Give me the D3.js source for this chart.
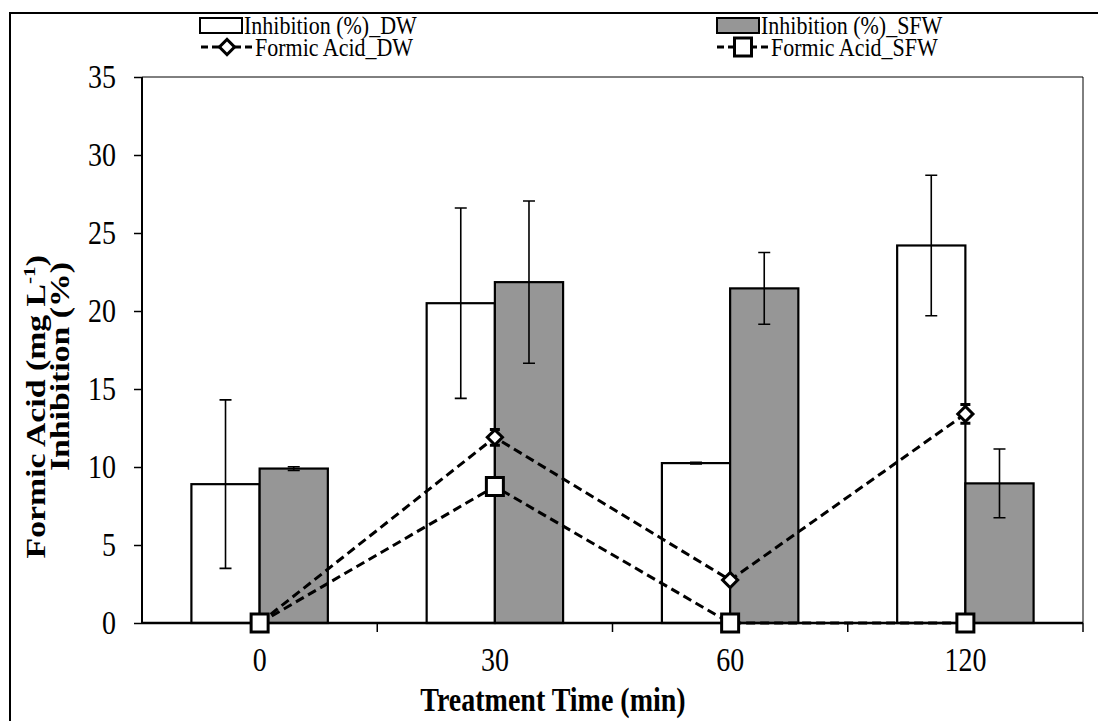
<!DOCTYPE html>
<html><head><meta charset="utf-8">
<script src="https://cdn.jsdelivr.net/npm/d3@7"></script>
<style>body{margin:0;background:#fff}svg{display:block}text{font-family:"Liberation Serif","Times New Roman",serif;fill:#000}</style>
</head><body>
<svg id="c" width="1098" height="721"></svg>
<script>
const categories = ["0","30","60","120"];
const inhibDW = [8.9, 20.5, 10.25, 24.2];
const inhibDWErr = [5.4, 6.1, 0.05, 4.5];
const inhibSFW = [9.9, 21.85, 21.45, 8.95];
const inhibSFWErr = [0.12, 5.2, 2.3, 2.2];
const formicDW = [0, 11.9, 2.75, 13.4];
const formicDWErr = [0, 0.5, 0, 0.6];
const formicSFW = [0, 8.75, 0, 0];
const yTicks = [0,5,10,15,20,25,30,35];
const legendLabels = ["Inhibition (%)_DW","Inhibition (%)_SFW","Formic Acid_DW","Formic Acid_SFW"];

const svg = d3.select("#c");
const L = 142, R = 1083, T = 77, B = 623;
const x = d3.scaleBand().domain(categories).range([L, R]).paddingInner(0.42).paddingOuter(0.21);
const x0 = d3.scaleBand().domain(categories).range([L, R]);
const sub = d3.scaleBand().domain(["DW","SFW"]).range([0, x.bandwidth()]);
const y = d3.scaleLinear().domain([0,35]).range([B, T]);

function stretchText(parent, tx, ty, str, opt){
  const s = opt.s || 1.2;
  const tr = opt.rot ? `translate(${tx},${ty}) rotate(-90) scale(${s},1)` : `translate(${tx},${ty}) scale(1,${s})`;
  const gg = parent.append("g").attr("transform", tr);
  const t = gg.append("text").attr("x",0).attr("y",0)
    .attr("font-size", opt.size).attr("font-weight", opt.weight||"normal")
    .attr("text-anchor", opt.anchor||"start");
  if (str !== null) t.text(str);
  return t;
}

// outer frame
svg.append("rect").attr("x",10).attr("y",13).attr("width",1200).attr("height",800)
  .attr("fill","none").attr("stroke","#000").attr("stroke-width",2);

// plot frame top/right
svg.append("path").attr("d",`M${L},${T}H${R}V${B}`).attr("fill","none").attr("stroke","#000").attr("stroke-width",1);

const g = svg.append("g");
const series = [
  {k:"DW", v:inhibDW, e:inhibDWErr, fill:"#fff"},
  {k:"SFW", v:inhibSFW, e:inhibSFWErr, fill:"#969696"}
];
series.forEach(s=>{
  g.selectAll(null).data(categories).enter().append("rect")
    .attr("x", c=>x(c)+sub(s.k)).attr("width", sub.bandwidth())
    .attr("y", (c,i)=>y(s.v[i])).attr("height",(c,i)=>y(0)-y(s.v[i]))
    .attr("fill", s.fill).attr("stroke","#000").attr("stroke-width",2.2);
});
series.forEach(s=>{
  categories.forEach((c,i)=>{
    const cx = x(c)+sub(s.k)+sub.bandwidth()/2;
    const y1 = y(s.v[i]+s.e[i]), y2 = y(s.v[i]-s.e[i]);
    g.append("path").attr("d",`M${cx},${y1}V${y2}M${cx-6},${y1}H${cx+6}M${cx-6},${y2}H${cx+6}`)
      .attr("stroke","#000").attr("stroke-width",1.6).attr("fill","none");
  });
});

// y axis
const yAxis = d3.axisLeft(y).tickValues(yTicks).tickSize(8).tickPadding(18);
const ya = svg.append("g").attr("transform",`translate(${L},0)`).call(yAxis);
ya.select(".domain").attr("stroke-width",2).attr("d",`M0,${B}V${T}`);
ya.selectAll(".tick line").attr("stroke-width",1.5);
ya.selectAll("text").attr("font-size",28).attr("font-family","Liberation Serif").attr("transform","scale(1,1.2)");

// x axis
const xa = svg.append("g").attr("transform",`translate(0,${B})`);
xa.append("line").attr("x1",L).attr("x2",R).attr("stroke","#000").attr("stroke-width",2.5);
const edges = categories.map(c=>x0(c)).concat([R]);
xa.selectAll(null).data(edges.slice(1)).enter().append("line")
  .attr("x1",d=>d).attr("x2",d=>d).attr("y1",0).attr("y2",9).attr("stroke","#000").attr("stroke-width",1.5);
categories.forEach(c=>{
  stretchText(svg, x(c)+x.bandwidth()/2, 671, c, {size:28, anchor:"middle"});
});

// lines
const cxs = c => x(c)+x.bandwidth()/2;
const lineGen = d3.line().x(d=>cxs(d[0])).y(d=>y(d[1]));
[formicDW, formicSFW].forEach(arr=>{
  svg.append("path").datum(categories.map((c,i)=>[c,arr[i]])).attr("d",lineGen)
    .attr("fill","none").attr("stroke","#000").attr("stroke-width",3).attr("stroke-dasharray","9,5");
});
categories.forEach((c,i)=>{
  if(!formicDWErr[i]) return;
  const cx = cxs(c), y1=y(formicDW[i]+formicDWErr[i]), y2=y(formicDW[i]-formicDWErr[i]);
  svg.append("path").attr("d",`M${cx},${y1}V${y2}M${cx-5},${y1}H${cx+5}M${cx-5},${y2}H${cx+5}`)
    .attr("stroke","#000").attr("stroke-width",3);
});
const diamond = d3.symbol().type(d3.symbolSquare).size(115);
svg.selectAll(null).data(categories).enter().append("path")
  .attr("d", diamond).attr("transform",(c,i)=>`translate(${cxs(c)},${y(formicDW[i])}) rotate(45)`)
  .attr("fill","#fff").attr("stroke","#000").attr("stroke-width",3);
svg.selectAll(null).data(categories).enter().append("rect")
  .attr("x",c=>cxs(c)-8.5).attr("y",(c,i)=>y(formicSFW[i])-9).attr("width",17).attr("height",18)
  .attr("fill","#fff").attr("stroke","#000").attr("stroke-width",3);

// legend
const lg = svg.append("g");
const legendItems = [
  {label:legendLabels[0], type:"bar", fill:"#fff", x:200, y:25},
  {label:legendLabels[1], type:"bar", fill:"#969696", x:717, y:25},
  {label:legendLabels[2], type:"diamond", x:201, y:47},
  {label:legendLabels[3], type:"square", x:717, y:47}
];
legendItems.forEach(it=>{
  if(it.type==="bar"){
    lg.append("rect").attr("x",it.x).attr("y",it.y-7).attr("width",42).attr("height",15)
      .attr("fill",it.fill).attr("stroke","#000").attr("stroke-width",2);
    stretchText(lg, it.x+44, it.y+8.5, it.label, {size:22, s:1.15});
  } else {
    lg.append("line").attr("x1",it.x).attr("x2",it.x+51).attr("y1",it.y).attr("y2",it.y)
      .attr("stroke","#000").attr("stroke-width",3).attr("stroke-dasharray","7,4");
    const mx = it.x+26;
    if(it.type==="diamond"){
      lg.append("path").attr("d",diamond).attr("transform",`translate(${mx},${it.y}) rotate(45)`)
        .attr("fill","#fff").attr("stroke","#000").attr("stroke-width",3);
    } else {
      lg.append("rect").attr("x",mx-8.5).attr("y",it.y-9).attr("width",17).attr("height",18)
        .attr("fill","#fff").attr("stroke","#000").attr("stroke-width",3);
    }
    stretchText(lg, it.x+54, it.y+8.5, it.label, {size:22, s:1.15});
  }
});

// axis titles
stretchText(svg, 553, 711, "Treatment Time (min)", {size:28, weight:"bold", anchor:"middle"});
const t1 = stretchText(svg, 45, 255, null, {size:27, weight:"bold", anchor:"end", rot:true, s:1.25});
t1.append("tspan").text("Formic Acid (mg L");
t1.append("tspan").attr("font-size",17).attr("dy",-10).text("-1");
t1.append("tspan").attr("dy",10).text(")");
stretchText(svg, 69, 262, "Inhibition (%)", {size:27, weight:"bold", anchor:"end", rot:true, s:1.25});
</script>
</body></html>
